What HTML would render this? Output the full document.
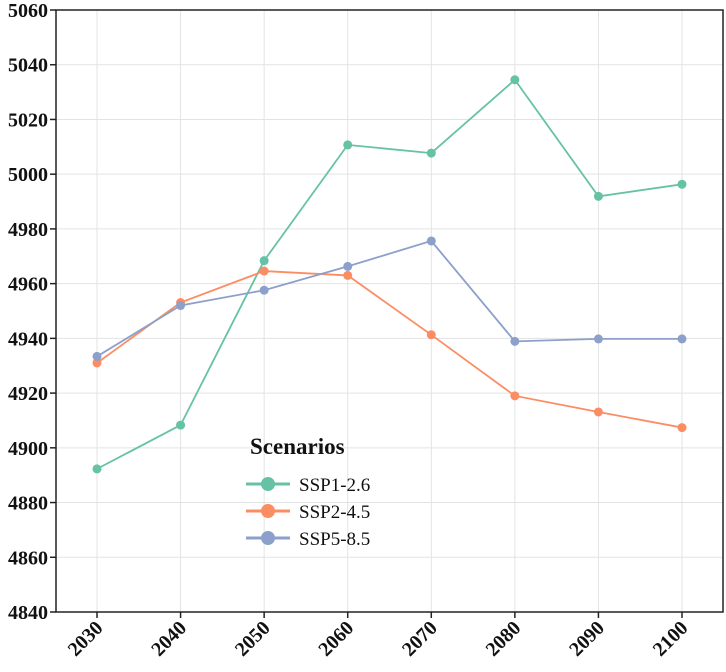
<!DOCTYPE html>
<html><head><meta charset="utf-8"><style>
body{margin:0;background:#fff}
text{font-family:"Liberation Serif",serif;font-weight:bold}
</style></head><body>
<svg id="chart" width="726" height="667" xmlns="http://www.w3.org/2000/svg"></svg>
<script>
const years=[2030,2040,2050,2060,2070,2080,2090,2100];
const ssp126=[4892.3,4908.3,4968.4,5010.7,5007.7,5034.5,4991.9,4996.3];
const ssp245=[4931.0,4953.1,4964.6,4963.0,4941.3,4919.0,4913.1,4907.4];
const ssp585=[4933.4,4952.0,4957.6,4966.3,4975.6,4938.9,4939.8,4939.8];
const yTicks=[4840,4860,4880,4900,4920,4940,4960,4980,5000,5020,5040,5060];
const seriesNames=["SSP1-2.6","SSP2-4.5","SSP5-8.5"];
const colors=["#66c2a5","#fc8d62","#8da0cb"];
const L=56,R=723,T=10,B=612;
const x=v=>97+(v-2030)*(682-97)/70;
const y=v=>B-(v-4840)*(B-T)/220;
const svg=document.getElementById('chart');
const NS="http://www.w3.org/2000/svg";
function mk(tag,attrs,parent){const e=document.createElementNS(NS,tag);for(const k in attrs)e.setAttribute(k,attrs[k]);(parent||svg).appendChild(e);return e;}
const grid=mk('g',{});


yTicks.forEach(t=>{mk('line',{x1:L,x2:R,y1:y(t),y2:y(t),stroke:'#e3e3e3','stroke-width':1},grid);});
years.forEach(t=>{mk('line',{x1:x(t),x2:x(t),y1:T,y2:B,stroke:'#e3e3e3','stroke-width':1},grid);});
const frame=mk('rect',{x:L,y:T,width:R-L,height:B-T,fill:'none',stroke:'#222','stroke-width':1.5});


yTicks.forEach(t=>{
 mk('line',{x1:L-6,x2:L,y1:y(t),y2:y(t),stroke:'#222','stroke-width':1.5});
 const tx=mk('text',{x:L-8,y:y(t)+7,'text-anchor':'end','font-size':20,fill:'#111'});
 tx.textContent=t;
 
 
});
years.forEach(t=>{
 mk('line',{x1:x(t),x2:x(t),y1:B,y2:B+6,stroke:'#222','stroke-width':1.5});
 const tx=mk('text',{x:x(t)+7,y:B+17,'text-anchor':'end','font-size':20,fill:'#111',transform:`rotate(-45 ${x(t)+7} ${B+17})`});
 tx.textContent=t;
 
 
});
[ssp126,ssp245,ssp585].forEach((s,i)=>{
 const g=mk('g',{});
 
 
 mk('polyline',{points:s.map((v,j)=>x(years[j])+','+y(v)).join(' '),fill:'none',stroke:colors[i],'stroke-width':1.8},g);
 s.forEach((v,j)=>{const c=mk('circle',{cx:x(years[j]),cy:y(v),r:4.5,fill:colors[i]},g);
  
  });
});
const lg=mk('g',{});


const lt=mk('text',{x:250,y:454,'font-size':23,fill:'#111'},lg);
lt.textContent='Scenarios';
seriesNames.forEach((n,i)=>{
 const yy=484+i*27;
 mk('line',{x1:246,x2:290,y1:yy,y2:yy,stroke:colors[i],'stroke-width':3},lg);
 mk('circle',{cx:268,cy:yy,r:7,fill:colors[i]},lg);
 const t=mk('text',{x:299,y:yy+7,'font-size':19,fill:'#111'},lg);
 t.style.fontWeight='normal';
 t.textContent=n;
 
 
});
</script>
</body></html>
